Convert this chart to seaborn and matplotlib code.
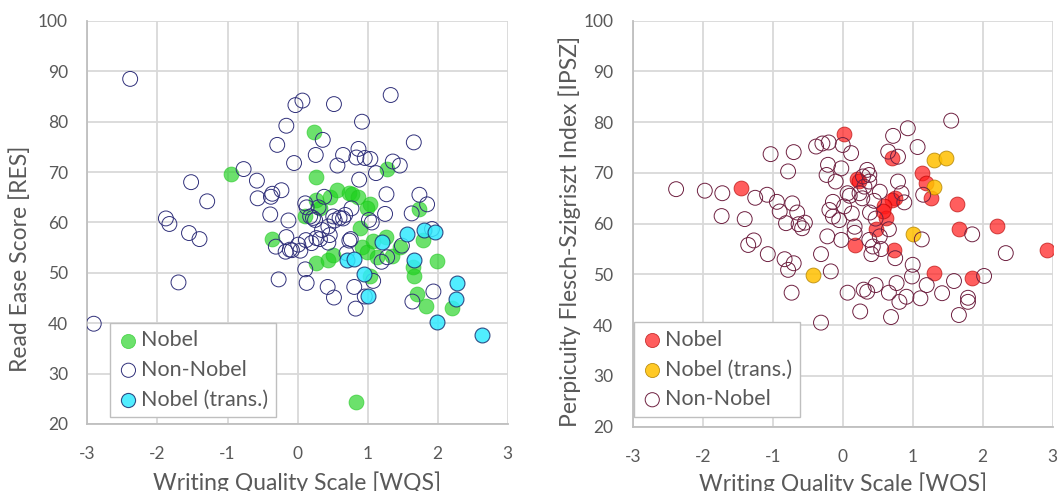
import seaborn as sns
import matplotlib.pyplot as plt

# Left panel: Read Ease Score vs WQS
left_nobel_wqs = [-0.95, 0.24, 0.27, 0.83, -0.37, 0.27, 0.44, 0.50, 1.28, 1.73, 1.99, 1.79,
                  1.65, 1.67, 1.70, 1.84, 2.20, 0.89, 0.11, 0.27, 0.32, 0.46, 0.56, 0.73,
                  0.78, 0.87, 1.03, 0.99, 0.92, 0.99, 1.08, 1.13, 1.27, 1.35, 1.46, 1.04]
left_nobel_res = [69.6, 78.0, 69.1, 24.3, 56.7, 51.9, 52.6, 53.5, 70.6, 62.6, 52.4, 56.6,
                  51.2, 49.3, 45.8, 43.5, 43.0, 59.0, 61.3, 64.5, 62.9, 65.1, 66.5, 65.8,
                  65.6, 65.1, 63.7, 62.8, 55.2, 54.2, 56.4, 53.2, 57.1, 53.4, 55.2, 49.3]

left_non_wqs = [-2.39, -2.91, -1.88, -1.83, -1.70, -1.55, -1.40, -1.52, -1.29,
                -0.77, -0.58, -0.57, -0.36, -0.38, -0.23, -0.39,
                -0.29, -0.16, -0.05, -0.03, 0.07, 0.52, 0.36, 0.26,
                0.92, 1.33, 1.66, 0.65, 0.57, 0.87, 0.84, 0.96, 1.04, 1.12, 1.36, 1.46,
                0.88, 1.27, 1.74, 1.85, 1.63, 1.25, 1.02, 0.77, 0.65, 0.51, 0.74, 0.38,
                0.11, 0.13, 0.18, 0.25, 0.35, 0.44, 0.46, 0.32, 0.20, 0.44, 0.01, 0.04,
                -0.11, -0.17, -0.16, -0.13, -0.31, -0.27, 0.11, 0.13, 0.43, 0.52, 0.81,
                0.83, 0.96, 1.08, 1.20, 1.28, 0.76, 0.70, 1.64, 1.94, 1.92, 1.49, 1.06,
                0.27, 0.12, -0.08, 0.60, 0.68, 0.53, 0.30, 0.22]
left_non_res = [88.5, 39.9, 60.8, 59.7, 48.1, 57.9, 56.7, 68.0, 64.2,
                70.6, 68.3, 64.8, 65.7, 65.1, 66.4, 61.6,
                75.4, 79.2, 71.8, 83.3, 84.2, 83.5, 76.4, 73.4,
                80.0, 85.3, 75.9, 73.4, 71.3, 74.6, 72.9, 72.8, 72.6, 69.8, 72.1, 71.3,
                68.5, 65.6, 65.5, 63.6, 61.8, 61.7, 60.5, 62.8, 60.8, 61.2, 56.4, 65.1,
                63.8, 63.0, 61.2, 60.5, 58.5, 59.2, 57.5, 56.7, 55.9, 56.0, 55.6, 54.4,
                54.6, 54.2, 57.1, 60.4, 55.2, 48.7, 50.7, 48.0, 47.2, 45.1, 47.2,
                42.9, 45.3, 48.4, 52.2, 53.1, 56.7, 53.9, 44.3, 46.3, 58.7, 55.4, 60.0,
                56.9, 56.5, 54.5, 60.9, 61.5, 60.4, 63.0, 60.9]

left_trans_wqs = [0.70, 0.81, 0.95, 1.01, 1.20, 1.56, 1.81, 1.96, 1.66, 2.27, 2.26, 1.99, 2.63]
left_trans_res = [52.6, 52.7, 49.8, 45.5, 56.1, 57.7, 58.5, 58.1, 52.6, 47.9, 44.8, 40.2, 37.7]

# Right panel: Perspicuity Flesch-Szigriszt index vs WQS
right_nobel_wqs = [0.02, 0.71, 0.21, 0.24, -1.46, 1.13, 1.19, 1.26, 1.63, 0.75, 0.70,
                   0.59, 0.62, 0.48, 0.17, 0.74, 1.66, 2.21, 2.92, 1.31, 1.85, 0.58]
right_nobel_ipsz = [77.7, 72.9, 68.9, 68.5, 67.1, 69.9, 68.0, 65.0, 63.9, 65.0, 64.6,
                    63.5, 61.1, 58.9, 55.7, 54.8, 58.9, 59.6, 54.8, 50.2, 49.2, 62.5]

right_trans_wqs = [1.31, 1.47, 1.30, 1.00, -0.42]
right_trans_ipsz = [72.6, 72.9, 67.3, 57.9, 49.9]

right_non_wqs = [-2.38, -1.97, -1.72, -1.73, -1.40, -1.25, -1.08, -1.03, -0.70, -0.78,
                 -0.94, -0.90, -0.72, -0.65, -0.81, -0.63, -0.58, -0.54, -1.35, -1.27,
                 -1.07, -0.83, -0.70, -0.78, -0.73, -0.31, -0.17, -0.31, -0.38, -0.29,
                 -0.20, 0.00, 0.12, -0.21, -0.23, -0.02, -0.10, 0.07, -0.14, -0.19,
                 -0.14, -0.05, 0.02, 0.13, 0.17, -0.22, -0.02, 0.17, 0.29, 0.35,
                 0.38, 0.31, 0.38, 0.24, 0.39, 0.53, 0.65, 0.72, 0.93, 1.07,
                 0.79, 0.79, 0.84, 0.88, 1.15, 0.66, 0.38, 0.41, 0.55, 0.75,
                 1.13, 1.55, 1.85, 2.33, 2.02, 1.59, 1.20, 1.42, 1.11, 0.99,
                 1.00, 0.77, 0.91, 0.81, 0.66, 0.47, 0.35, 0.30, 0.07, 0.25,
                 0.69, 1.66, 1.79, 1.79, 0.53, 0.43, 0.45, 0.28, 0.10, 0.47]
right_non_ipsz = [66.8, 66.5, 66.0, 61.5, 60.9, 65.1, 65.7, 73.7, 74.1, 70.3,
                  64.3, 62.4, 64.0, 62.2, 60.1, 59.9, 59.1, 60.2, 55.8, 56.7,
                  54.0, 53.0, 52.2, 50.9, 46.4, 54.0, 50.6, 40.5, 75.2, 75.8,
                  76.0, 75.5, 73.9, 71.6, 69.6, 70.9, 68.3, 66.0, 64.3, 62.7,
                  61.4, 60.7, 63.4, 62.0, 59.4, 57.5, 56.8, 58.2, 69.3, 70.6,
                  69.6, 67.3, 68.3, 66.0, 62.2, 66.3, 74.2, 77.3, 78.8, 75.1,
                  73.2, 68.3, 66.0, 64.2, 65.7, 58.9, 56.8, 54.0, 55.0, 53.2,
                  56.9, 80.3, 57.9, 54.2, 49.7, 48.7, 47.9, 46.3, 45.3, 49.6,
                  51.9, 48.3, 45.6, 44.6, 46.4, 47.9, 46.6, 47.0, 46.4, 42.7,
                  41.6, 42.0, 45.4, 44.6, 57.5, 55.5, 64.5, 65.0, 65.5, 61.0]

sns.set_style("white")
plt.rcParams['font.family'] = ['Lato', 'DejaVu Sans']
plt.rcParams['axes.unicode_minus'] = False
text_gray = '#595959'
grid_gray = '#d9d9d9'

fig = plt.figure(figsize=(10.6, 4.91), dpi=100)
ax1 = fig.add_axes([0.0825, 0.1365, 0.3964, 0.8208])
ax2 = fig.add_axes([0.5969, 0.1310, 0.3962, 0.8269])

size = 115

# left: Nobel, Non-Nobel, Nobel (trans.)
sns.scatterplot(x=left_nobel_wqs, y=left_nobel_res, ax=ax1, s=size, color='#1ed21e',
                edgecolor='#1ec81e', linewidth=0.6, alpha=0.65, label='Nobel', zorder=3)
sns.scatterplot(x=left_non_wqs, y=left_non_res, ax=ax1, s=size, facecolors='none',
                edgecolor='#30307a', linewidth=0.7, label='Non-Nobel', zorder=4)
sns.scatterplot(x=left_trans_wqs, y=left_trans_res, ax=ax1, s=size, color='#33eaff',
                edgecolor='#1a2f70', linewidth=0.8, alpha=0.85, label='Nobel (trans.)', zorder=5)

# right: Nobel, Nobel (trans.), Non-Nobel
sns.scatterplot(x=right_nobel_wqs, y=right_nobel_ipsz, ax=ax2, s=size, color='#ff1a1a',
                edgecolor='#b00000', linewidth=0.6, alpha=0.7, label='Nobel', zorder=3)
sns.scatterplot(x=right_trans_wqs, y=right_trans_ipsz, ax=ax2, s=size, color='#ffc000',
                edgecolor='#b08000', linewidth=0.6, alpha=0.85, label='Nobel (trans.)', zorder=4)
sns.scatterplot(x=right_non_wqs, y=right_non_ipsz, ax=ax2, s=size, facecolors='none',
                edgecolor='#6e2040', linewidth=0.7, label='Non-Nobel', zorder=5)

for ax in (ax1, ax2):
    ax.set_xlim(-3, 3)
    ax.set_ylim(20, 100)
    ax.set_xticks(range(-3, 4))
    ax.set_yticks(range(20, 101, 10))
    ax.grid(True, color=grid_gray, linewidth=1.3)
    ax.set_axisbelow(True)
    ax.tick_params(length=0, labelsize=12.5, colors=text_gray)
    ax.tick_params(axis='y', pad=14)
    ax.tick_params(axis='x', pad=16)
    for side in ('top', 'right'):
        ax.spines[side].set_visible(False)
    for side in ('left', 'bottom'):
        ax.spines[side].set_color('#bfbfbf')
        ax.spines[side].set_linewidth(1.3)

ax1.set_xlabel('Writing Quality Scale [WQS]', fontsize=16.5, color=text_gray)
ax1.set_ylabel('Read Ease Score [RES]', fontsize=16.5, color=text_gray)
ax1.xaxis.set_label_coords(0.5, -0.117)
ax1.yaxis.set_label_coords(-0.134, 0.41)

ax2.set_xlabel('Writing Quality Scale [WQS]', fontsize=16.5, color=text_gray)
ax2.set_ylabel('Perpicuity Flesch-Szigriszt Index [IPSZ]', fontsize=16.5, color=text_gray)
ax2.xaxis.set_label_coords(0.5, -0.112)
ax2.yaxis.set_label_coords(-0.123, 0.48)

leg_kw = dict(loc='lower left', borderaxespad=0, fontsize=15.5, frameon=True, fancybox=False,
              framealpha=1, edgecolor='#bfbfbf', handletextpad=0.1, handlelength=1.0,
              labelspacing=0.45, borderpad=0.35, markerscale=0.95)
leg1 = ax1.legend(bbox_to_anchor=(0.054, 0.017), **leg_kw)
leg2 = ax2.legend(bbox_to_anchor=(0.003, 0.024), **leg_kw)
for leg in (leg1, leg2):
    leg.set_zorder(10)
    for t in leg.get_texts():
        t.set_color(text_gray)

fig.savefig('out.png', dpi=100)
